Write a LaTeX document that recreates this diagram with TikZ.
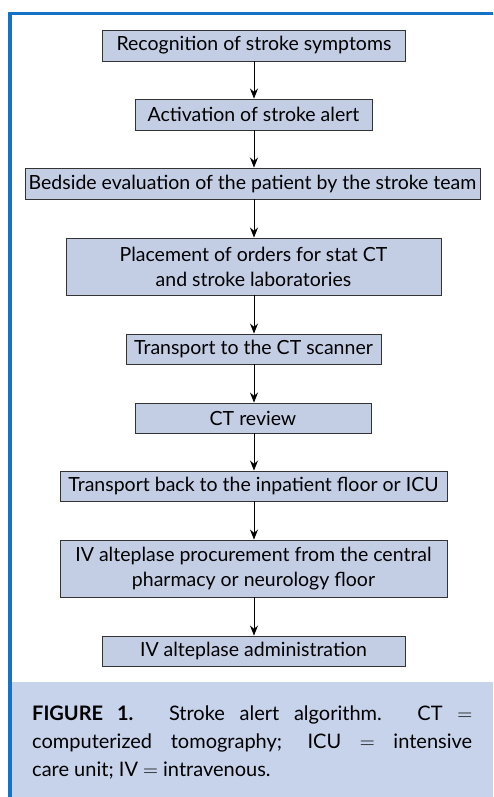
\documentclass[tikz,border=0pt]{standalone}
\usepackage{fontspec}
\setmainfont{Lato}
\usepackage{xcolor}
\usetikzlibrary{positioning,arrows.meta}

\definecolor{boxfill}{HTML}{C3CEE5}
\definecolor{capfill}{HTML}{C7D3EA}
\definecolor{frameblue}{HTML}{1672C4}

\tikzset{
    flowbox/.style={draw=black!80, fill=boxfill, line width=0.9pt, minimum height=31pt,
        inner sep=2pt, align=center, font=\fontsize{19.5}{25}\selectfont},
    flowarrow/.style={draw=black, line width=0.9pt, -{Stealth[length=10pt,width=8pt]}}
}

\begin{document}
\begin{tikzpicture}[x=1pt,y=-1pt]
    \useasboundingbox (0,0) rectangle (493,797);

    % Frame and caption band
    \fill[capfill] (12,682) rectangle (493,797);
    \draw[frameblue, line width=3.5pt] (493,13.5) -- (10,13.5) -- (10,797);

    % Steps of the algorithm
    \node[flowbox, minimum width=303pt] (recog) at (254,45.5) {Recognition of stroke symptoms};
    \node[flowbox, minimum width=237pt] (alert) at (253.5,114.5) {Activation of stroke alert};
    \node[flowbox, minimum width=455pt] (bedside) at (252.5,183.5) {Bedside evaluation of the patient by the stroke team};
    \node[flowbox, minimum width=375pt, minimum height=57pt] (orders) at (253.5,266.5) {Placement of orders for stat CT\\and stroke laboratories};
    \node[flowbox, minimum width=255pt, minimum height=30pt] (toct) at (253.5,349) {Transport to the CT scanner};
    \node[flowbox, minimum width=236pt, minimum height=30pt] (review) at (253,418) {CT review};
    \node[flowbox, minimum width=387pt, minimum height=30pt] (back) at (253.5,486) {Transport back to the inpatient floor or ICU};
    \node[flowbox, minimum width=387pt, minimum height=57pt] (procure) at (253.5,568.5) {IV alteplase procurement from the central\\pharmacy or neurology floor};
    \node[flowbox, minimum width=303pt, minimum height=30pt] (admin) at (253.5,651) {IV alteplase administration};

    % Arrows
    \foreach \a/\b in {recog/alert, alert/bedside, bedside/orders, orders/toct,
                       toct/review, review/back, back/procure, procure/admin} {
        \draw[flowarrow] (\a.south -| 254,0) -- (\b.north -| 254,0);
    }

    % Caption
    \node[anchor=north west, inner sep=0pt, text width=440pt, align=justify,
          font=\fontsize{20}{28}\selectfont] (caption) at (32,706)
        {\textbf{FIGURE 1.} Stroke alert algorithm. CT $=$\linebreak computerized tomography; ICU $=$ intensive\linebreak care unit; IV $=$ intravenous.};
\end{tikzpicture}
\end{document}
